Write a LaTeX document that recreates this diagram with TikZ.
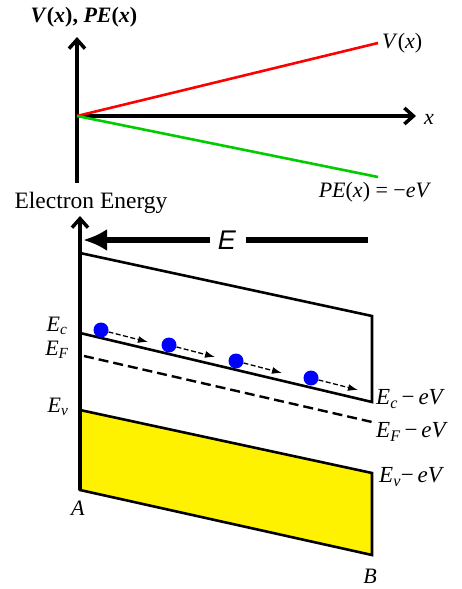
\documentclass[tikz,border=0pt]{standalone}
\usepackage{fontspec}
\setmainfont{Liberation Serif}
\setsansfont{Liberation Sans}
\usetikzlibrary{arrows.meta}
\tikzset{
  axisline/.style={line width=4pt,-{Straight Barb[length=9pt,width=16pt,line width=3.5pt]}},
  bandline/.style={line width=2.6pt,line join=miter},
  lbl/.style={inner sep=0pt,font=\fontsize{22}{26}\selectfont},
  electron/.style={circle,fill=blue,inner sep=0pt,minimum size=15pt},
  drift/.style={line width=1.3pt,dash pattern=on 5pt off 2.5pt,-{Latex[length=10pt,width=7pt]}}
}
\begin{document}
\begin{tikzpicture}[x=1pt,y=-1pt]
\useasboundingbox[fill=white] (0,0) rectangle (461,589);
% ---- top graph ----
\coordinate (O) at (77,116);
\coordinate (ytop) at (77,37);
\coordinate (ybot) at (77,183);
\coordinate (xend) at (416,116);
\coordinate (red) at (378,43);
\coordinate (green) at (378,177);
\draw[line width=4pt] (ybot) -- (O);
\draw[axisline] (O) -- (ytop);
\draw[axisline] (O) -- (xend);
\draw[red,line width=2.6pt] (O) -- (red);
\draw[green!80!black,line width=2.6pt] (O) -- (green);
\node[lbl] (ylab) at (84,17) {\textbf{\textit{V}(\textit{x}), \textit{PE}(\textit{x})}};
\node[lbl,anchor=west] (vlab) at (382,43) {\textit{V}(\textit{x})};
\node[lbl] (xlab) at (429,119) {\textit{x}};
\node[lbl] (pelab) at (375,192) {\textit{PE}(\textit{x}) = \textminus\textit{eV}};
% ---- band diagram ----
\node[lbl,font=\fontsize{23.5}{27}\selectfont] (eelab) at (91,203) {Electron Energy};
\coordinate (ebot) at (80,490);
\coordinate (etop) at (80,216);
\draw[axisline] (ebot) -- (etop);
% field arrow
\node[inner sep=0pt,font=\sffamily\itshape\fontsize{27}{30}\selectfont] (E) at (227,240) {E};
\coordinate (Eright) at (368,240);
\coordinate (Etip) at (83,240);
\draw[line width=6pt] (Eright) -- ([xshift=10pt]E.east);
\draw[line width=6pt,-{Latex[length=24pt,width=22pt]}] ([xshift=-8pt]E.west) -- (Etip);
% valence band
\coordinate (v1) at (80,410);
\coordinate (v2) at (372,473);
\coordinate (v3) at (372,555);
\coordinate (v4) at (80,490);
\draw[bandline,fill=yellow] (v1) -- (v2) -- (v3) -- (v4) -- cycle;
\draw[line width=4pt] (v1) -- (v4);
% conduction band
\coordinate (c1) at (80,253);
\coordinate (c2) at (372,316);
\coordinate (c3) at (372,402);
\coordinate (c4) at (80,333);
\draw[bandline] (c1) -- (c2) -- (c3) -- (c4);
% Fermi level
\coordinate (f1) at (84,356);
\coordinate (f2) at (372,422);
\draw[line width=2.4pt,dash pattern=on 10pt off 5pt] (f1) -- (f2);
% electrons
\node[electron] (e1) at (101,330) {};
\node[electron] (e2) at (169,345) {};
\node[electron] (e3) at (236,361) {};
\node[electron] (e4) at (311,378) {};
\coordinate (a1) at (148,342);
\coordinate (a2) at (215,357);
\coordinate (a3) at (282,373);
\coordinate (a4) at (358,390);
\draw[drift] (e1) -- (a1);
\draw[drift] (e2) -- (a2);
\draw[drift] (e3) -- (a3);
\draw[drift] (e4) -- (a4);
% labels
\node[lbl] (Ec) at (57,326) {\textit{E}\textsubscript{\textit{c}}};
\node[lbl] (EF) at (57,350) {\textit{E}\textsubscript{\textit{F}}};
\node[lbl] (Ev) at (58,407) {\textit{E}\textsubscript{\textit{v}}};
\node[lbl] (A) at (78,508) {\textit{A}};
\node[lbl] (B) at (370,576) {\textit{B}};
\node[lbl,anchor=west,font=\fontsize{23}{27}\selectfont] (Ecv) at (376,399) {\textit{E}\textsubscript{\textit{c}}\,\textminus\,\textit{eV}};
\node[lbl,anchor=west,font=\fontsize{23}{27}\selectfont] (EFv) at (376,432) {\textit{E}\textsubscript{\textit{F}}\,\textminus\,\textit{eV}};
\node[lbl,anchor=west,font=\fontsize{23}{27}\selectfont] (Evv) at (379,477) {\textit{E}\textsubscript{\textit{v}}\textminus\,\textit{eV}};
\end{tikzpicture}
\end{document}
